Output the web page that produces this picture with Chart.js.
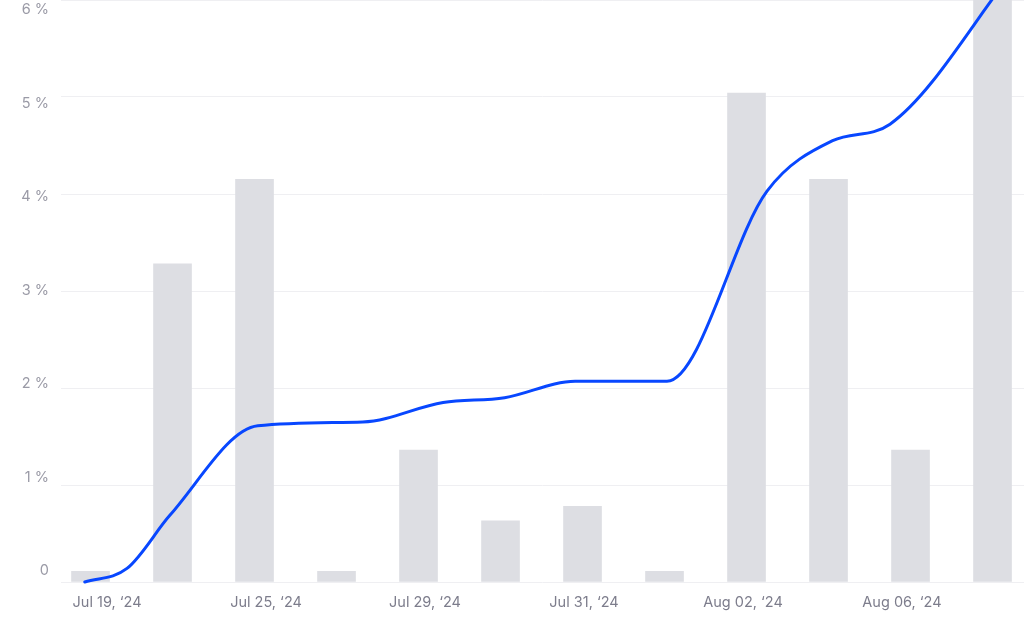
<!DOCTYPE html>
<html>
<head>
<meta charset="utf-8">
<script src="https://cdn.jsdelivr.net/npm/chart.js@4.4.1/dist/chart.umd.min.js"></script>
<style>
  html, body { margin: 0; padding: 0; background: #fff; overflow: hidden; }
  #chart { display: block; }
</style>
</head>
<body>
<canvas id="chart" width="1024" height="620"></canvas>
<script>
// ── Data ─────────────────────────────────────────────
const barSlots   = [0, 1, 2, 3, 4, 5, 6, 7, 8, 9, 10, 11];
const barValues  = [0.11, 3.28, 4.15, 0.11, 1.36, 0.63, 0.78, 0.11, 5.04, 4.15, 1.36, 6.4];

// the line's points do not sit exactly on the bar slots
const lineSlots  = [-0.07, 0.445, 0.97, 2.04, 3.32, 4.3, 5.05, 5.91, 7.03, 8.25, 9.05, 9.75, 11.3];
const lineValues = [0.0, 0.14, 0.69, 1.61, 1.65, 1.85, 1.9, 2.07, 2.07, 4.03, 4.55, 4.72, 6.35];

const xTickSlots  = [0, 2, 4, 6, 8, 10];
const xTickLabels = ["Jul 19, ‘24", "Jul 25, ‘24", "Jul 29, ‘24", "Jul 31, ‘24", "Aug 02, ‘24", "Aug 06, ‘24"];
const yTicks      = [0, 1, 2, 3, 4, 5, 6];

const FONT = "Inter, 'Noto Sans', sans-serif";

// no extra label padding round the plot area
const noPad = s => { s.paddingTop = 0; s.paddingBottom = 0; s.paddingLeft = 0; s.paddingRight = 0; };

const chart = new Chart(document.getElementById("chart").getContext("2d"), {
    data: {
        datasets: [
            {
                type: "line",
                data: lineSlots.map((s, i) => ({ x: s, y: lineValues[i] })),
                borderColor: "#0847ff",
                borderWidth: 3,
                borderCapStyle: "round",
                pointRadius: 0,
                cubicInterpolationMode: "monotone",
                clip: 4,
                order: 0,
            },
            {
                type: "bar",
                data: barSlots.map((s, i) => ({ x: s, y: barValues[i] })),
                backgroundColor: "#dddee3",
                barThickness: 38,
                order: 1,
            }
        ]
    },
    options: {
        responsive: false,
        animation: false,
        devicePixelRatio: 1,
        layout: { padding: 0 },
        plugins: { legend: { display: false }, tooltip: { enabled: false } },
        scales: {
            x: {
                type: "linear",
                display: false,
                offset: false,
                min: -0.36,
                max: 11.384,
            },
            xl: {
                type: "linear",
                position: "bottom",
                offset: false,
                min: -0.579,
                max: 11.535,
                grid: { display: false, drawTicks: false },
                border: { display: false },
                afterBuildTicks: s => { s.ticks = xTickSlots.map(v => ({ value: v })); },
                afterFit: s => { s.height = 38; noPad(s); },
                ticks: {
                    padding: 12,
                    maxRotation: 0,
                    autoSkip: false,
                    color: "#7d7d8c",
                    font: { family: FONT, size: 14.5 },
                    callback: v => xTickLabels[xTickSlots.indexOf(v)],
                },
            },
            y: {
                type: "linear",
                position: "left",
                min: 0,
                max: 6,
                afterBuildTicks: s => { s.ticks = yTicks.map(v => ({ value: v })); },
                afterFit: s => { s.width = 0; noPad(s); },
                grid: { color: "#efeff2", lineWidth: 1, drawTicks: false },
                border: { display: false },
                ticks: { display: false },
            },
            yl: {
                type: "linear",
                position: "left",
                min: -0.1176,
                max: 6.107,
                afterBuildTicks: s => { s.ticks = yTicks.map(v => ({ value: v })); },
                afterFit: s => { s.width = 61; noPad(s); },
                grid: { display: false, drawTicks: false },
                border: { display: false },
                ticks: {
                    padding: 12,
                    color: "#9a9aa6",
                    font: { family: FONT, size: 14.5 },
                    callback: v => v === 0 ? "0" : v + " %",
                },
            },
        },
    },
});
</script>
</body>
</html>
